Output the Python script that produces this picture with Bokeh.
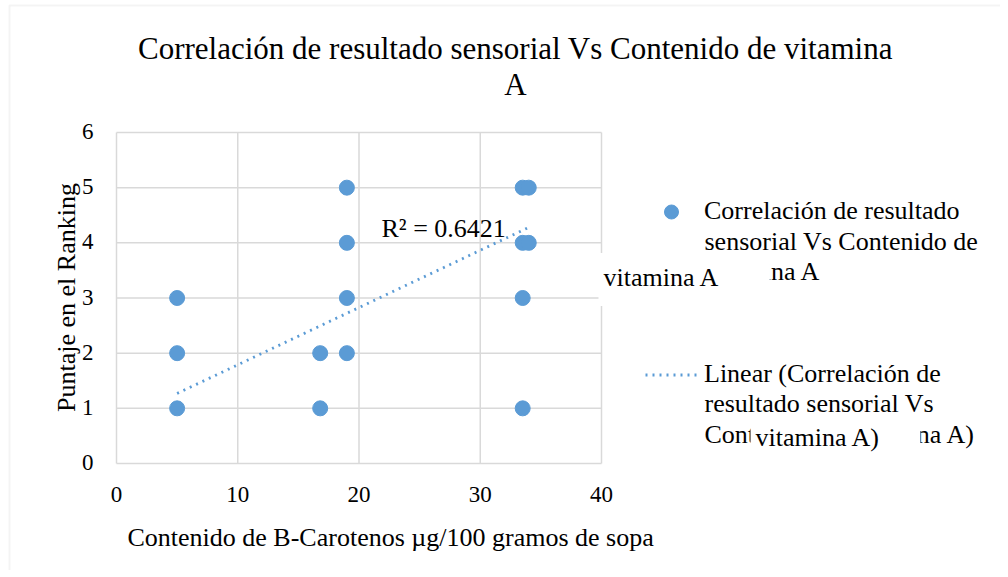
import math
from bokeh.plotting import figure
from bokeh.models import Label, Legend, LegendItem, BoxAnnotation
from bokeh.core.properties import value
from bokeh.embed import file_html
from bokeh.resources import INLINE

# ---------------- data ----------------
x_vals = [5, 5, 5, 16.8, 16.8, 19, 19, 19, 19, 33.5, 33.5, 33.5, 33.5, 34, 34]
y_vals = [3, 2, 1, 2, 1, 5, 4, 3, 2, 5, 4, 3, 1, 5, 4]
trend_x = [5, 34]
trend_y = [1.27, 4.28]
x_ticks = [0, 10, 20, 30, 40]
y_ticks = [0, 1, 2, 3, 4, 5, 6]
r2_text = "R² = 0.6421"
title_lines = ["Correlación de resultado sensorial Vs Contenido de vitamina", "A"]
x_title = "Contenido de B-Carotenos µg/100 gramos de sopa"
y_title = "Puntaje en el Ranking"
legend1_lines = ["Correlación de resultado", "sensorial Vs Contenido de", "vitamina A"]
legend2_lines = ["Linear (Correlación de", "resultado sensorial Vs", "Contenido de vitamina A)"]
overlay1 = "vitamina A"
overlay2 = "vitamina A)"

# ---------------- layout (canvas pixels) ----------------
W, H = 1000, 570
FL, FR, FT, FB = 116, 601, 132, 463          # plot area in pixels
FONT = "Liberation Serif"
BLUE = "#5b9bd5"
GRID = "#d9d9d9"
BASE = -9                                      # baseline correction for svg text
kx = (FR - FL) / (x_ticks[-1] - x_ticks[0])
ky = (FB - FT) / (y_ticks[-1] - y_ticks[0])

def X(ix):
    return (ix - FL) / kx

def Y(iy):
    return (FB - iy) / ky

p = figure(width=W, height=H, x_range=(X(0), X(W)), y_range=(Y(H), Y(0)),
           x_axis_type=None, y_axis_type=None,
           output_backend="svg", toolbar_location=None, min_border=0)
p.background_fill_color = "white"
p.border_fill_color = "white"
p.outline_line_color = None
p.xgrid.visible = False
p.ygrid.visible = False

# chart border (top/left edges visible in original)
p.add_layout(BoxAnnotation(left=X(9), right=X(W + 50), top=Y(5), bottom=Y(H + 50),
                           fill_alpha=0, line_color=GRID, line_width=2))

# gridlines from the tick arrays
p.segment(x0=x_ticks, y0=[y_ticks[0]] * len(x_ticks), x1=x_ticks, y1=[y_ticks[-1]] * len(x_ticks),
          line_color=GRID, line_width=1.5)
p.segment(x0=[x_ticks[0]] * len(y_ticks), y0=y_ticks, x1=[x_ticks[-1]] * len(y_ticks), y1=y_ticks,
          line_color=GRID, line_width=1.5)

pts = p.scatter(x_vals, y_vals, size=15, fill_color=BLUE, line_color=BLUE)
trend = p.line(trend_x, trend_y, line_color=BLUE, line_width=2.8, line_dash="2 5")

# tick labels
p.text(x=x_ticks, y=[y_ticks[0]] * len(x_ticks), text=[str(t) for t in x_ticks],
       text_font=value(FONT), text_font_size="23px", text_align="center",
       text_baseline="alphabetic", y_offset=40 + BASE, text_color="black")
p.text(x=[x_ticks[0]] * len(y_ticks), y=y_ticks, text=[str(t) for t in y_ticks],
       text_font=value(FONT), text_font_size="23px", text_align="right",
       text_baseline="alphabetic", x_offset=-23, y_offset=8 + BASE, text_color="black")

def txt(lines, ix, iys, size="26px", align="left", baseline="alphabetic", angle=0.0):
    off = BASE if baseline == "alphabetic" else 0
    p.text(x=[X(ix)] * len(lines), y=[Y(v + off) for v in iys], text=lines,
           text_font=value(FONT), text_font_size=size, text_align=align,
           text_baseline=baseline, angle=angle, text_color="black")

txt(title_lines, 515, [57, 93], size="31px", align="center")
txt([x_title], 127, [546])
txt([y_title], 66, [297], align="center", baseline="middle", angle=math.pi / 2)
txt([r2_text], 381, [237])
txt(legend1_lines[1:], 704, [250, 280])
txt(legend2_lines[1:], 704, [412, 443])

# legends (first line of each entry)
common = dict(glyph_width=52, glyph_height=35, label_height=35, label_standoff=7,
              padding=0, margin=0, border_line_color=None, background_fill_alpha=0,
              label_text_font="'Liberation Serif', serif", label_text_font_size="26px",
              label_text_color="black", spacing=0)
leg1 = Legend(items=[LegendItem(label=legend1_lines[0], renderers=[pts])],
              location=(645, H - 211 - 17.5), **common)
leg2 = Legend(items=[LegendItem(label=legend2_lines[0], renderers=[trend])],
              location=(645, H - 374 - 17.5), **common)
p.add_layout(leg1)
p.add_layout(leg2)

# overlapping text boxes as in the original
for text, ix, iy, pad in ((overlay1, 598, 288, dict(left=5, right=50, top=10, bottom=14)),
                          (overlay2, 750, 447, dict(left=5, right=40, top=4, bottom=6))):
    p.add_layout(Label(x=X(ix), y=Y(iy + BASE), text=text, text_font=FONT, text_font_size="26px",
                       text_baseline="alphabetic", text_color="black",
                       background_fill_color="white", padding=pad, level="overlay"))

open("out.html", "w").write(file_html(p, INLINE))
